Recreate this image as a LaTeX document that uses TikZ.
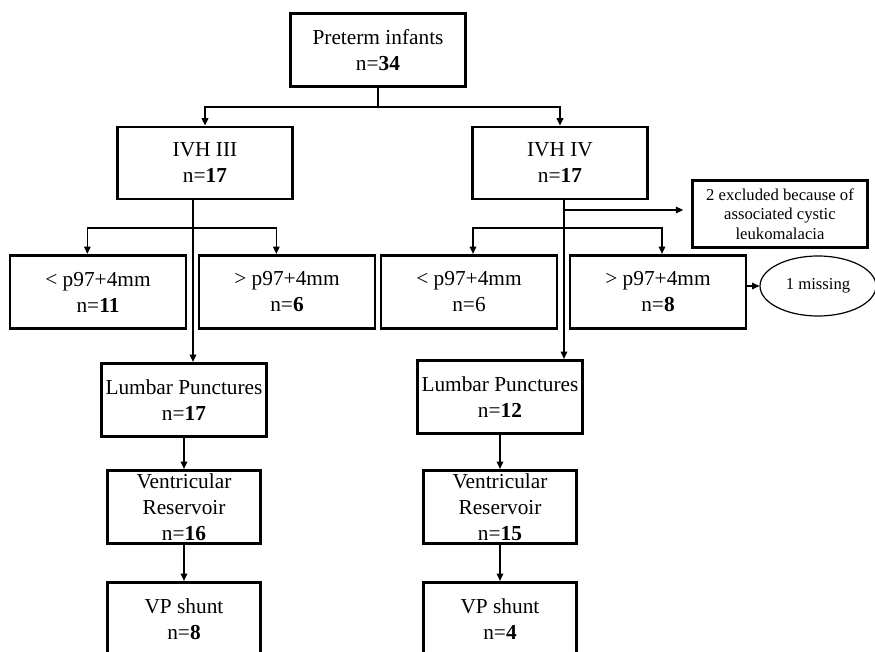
\documentclass[tikz,border=0pt]{standalone}
\usepackage{fontspec}
\setmainfont{Liberation Serif}
\usetikzlibrary{arrows.meta,shapes.geometric}

\begin{document}
\begin{tikzpicture}
        [x=0.75pt,y=-0.75pt,>={Triangle[length=5.5pt,width=5pt]}]
            \tikzstyle{every node}=[draw, line width=2.2pt, align=center,
        inner sep=0pt, font=\fontsize{16}{19.5}\selectfont]
            \tikzstyle{wide}=[minimum width=131pt, minimum height=55pt]
            \tikzstyle{slim}=[minimum width=115pt, minimum height=55pt]
            \tikzstyle{note}=[font=\fontsize{12.5}{14.5}\selectfont]
            \tikzstyle{link}=[line width=0.9pt]
        \useasboundingbox (0,0) rectangle (875,652);
        %-----top
         \node[wide]  (pre) at (378,50) {Preterm infants\\n=\textbf{34}};
         \node[wide, minimum height=54pt]  (ivh3) at (205,163) {IVH III\\n=\textbf{17}};
         \node[wide, minimum height=54pt]  (ivh4) at (560,163) {IVH IV\\n=\textbf{17}};
        %-----IVH III
         \node[wide, minimum width=132pt]  (lo3) at (98,292) {< p97+4mm\\n=\textbf{11}};
         \node[wide, minimum width=132pt]  (hi3) at (287,292) {> p97+4mm\\n=\textbf{6}};
         \node[wide, minimum width=124pt]  (lp3) at (184,400) {Lumbar Punctures\\n=\textbf{17}};
         \node[slim]  (vr3) at (184,507) {Ventricular\\Reservoir\\n=\textbf{16}};
         \node[slim]  (vp3) at (184,619) {VP shunt\\n=\textbf{8}};
        %-----IVH IV
         \node[wide, minimum width=132pt]  (lo4) at (469,292) {< p97+4mm\\n=6};
         \node[wide, minimum width=132pt]  (hi4) at (658,292) {> p97+4mm\\n=\textbf{8}};
         \node[wide, minimum height=50pt, note]  (excl) at (780,214)
            {2 excluded because of\\associated cystic\\leukomalacia};
         \node[ellipse, note, line width=0.9pt, minimum width=87pt,
            minimum height=45pt]  (miss) at (818,286) {1 missing};
         \node[wide, minimum width=124pt]  (lp4) at (500,397) {Lumbar Punctures\\n=\textbf{12}};
         \node[slim]  (vr4) at (500,507) {Ventricular\\Reservoir\\n=\textbf{15}};
         \node[slim]  (vp4) at (500,619) {VP shunt\\n=\textbf{4}};

         \coordinate (top) at (378,107);
         \coordinate (d3) at (193,199);
         \coordinate (s3) at (193,228);
         \coordinate (d4) at (564,200);
         \coordinate (e4) at (564,210);
         \coordinate (s4) at (564,228);

          \draw[link] (pre) -- (top);
          \draw[link, ->] (top) -| (ivh3);
          \draw[link, ->] (top) -| (ivh4);
          \draw[link, ->] (d3) -- (d3 |- lp3.north);
          \draw[link, ->] (s3) -| ([xshift=-8pt]lo3.north);
          \draw[link, ->] (s3) -| ([xshift=-8pt]hi3.north);
          \draw[link, ->] (d4) -- (d4 |- lp4.north);
          \draw[link, ->, shorten >=6pt] (e4) -- (e4 -| excl.west);
          \draw[link, ->] (s4) -| ([xshift=3pt]lo4.north);
          \draw[link, ->] (s4) -| ([xshift=3pt]hi4.north);
          \draw[link, ->] (hi4.east |- miss) -- (miss);

         \foreach \from/\to in {lp3/vr3, vr3/vp3, lp4/vr4, vr4/vp4}
         \draw[link, ->] (\from) -- (\to);

        \end{tikzpicture}
\end{document}
